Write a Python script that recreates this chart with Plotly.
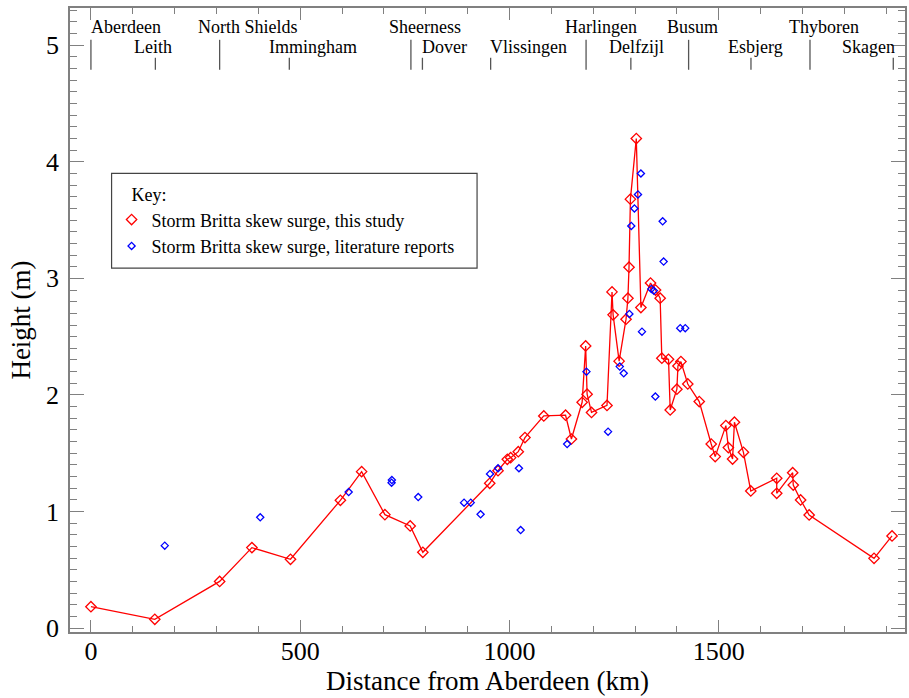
import plotly.graph_objects as go

# ---- data ----
study_km = [0, 152.6, 307.5, 384.6, 476.8, 596, 646.8, 702.4, 762.8, 793,
            952.8, 972.6, 994.8, 1002.8, 1021, 1037, 1082, 1134, 1148, 1173.6,
            1182, 1185.5, 1196, 1233, 1245, 1247.6, 1262, 1278.5, 1283, 1285.6,
            1289, 1303, 1314, 1337, 1349, 1360, 1364, 1380, 1384, 1400,
            1402.5, 1409.6, 1426, 1453.4, 1482, 1491.5, 1517, 1523, 1533, 1537.5,
            1559, 1576.5, 1638.5, 1638.5, 1676.6, 1678, 1695.6, 1716, 1871, 1914]
study_h = [0.183, 0.075, 0.40, 0.69, 0.59, 1.096, 1.342, 0.973, 0.876, 0.65,
           1.242, 1.35, 1.448, 1.462, 1.513, 1.634, 1.82, 1.826, 1.622, 1.937,
           2.42, 2.006, 1.85, 1.91, 2.884, 2.687, 2.29, 2.65, 2.83, 3.096,
           3.68, 4.20, 2.75, 2.96, 2.90, 2.83, 2.315, 2.306, 1.871, 2.049,
           2.249, 2.286, 2.094, 1.943, 1.579, 1.471, 1.737, 1.548, 1.45, 1.766,
           1.508, 1.176, 1.285, 1.156, 1.333, 1.227, 1.099, 0.97, 0.598, 0.79]

lit_km = [176.4, 404.5, 615.8, 718.3, 719, 782, 891.5, 907.5, 931, 953.5,
          972.6, 1022.6, 1026.7, 1137.8, 1184, 1235.6, 1263.5, 1273, 1286.5, 1291,
          1298.5, 1307, 1314, 1316.6, 1339, 1345, 1348.5, 1366, 1368.3, 1408, 1420]
lit_h = [0.707, 0.95, 1.167, 1.247, 1.27, 1.124, 1.076, 1.076, 0.976, 1.322,
         1.371, 1.371, 0.841, 1.579, 2.20, 1.685, 2.243, 2.186, 2.695, 3.45,
         3.60, 3.72, 3.90, 2.543, 2.91, 2.895, 1.986, 3.49, 3.144, 2.573, 2.573]

stations = ["Aberdeen", "Leith", "North Shields", "Immingham", "Sheerness", "Dover",
            "Vlissingen", "Harlingen", "Delfzijl", "Busum", "Esbjerg", "Thyboren", "Skagen"]
station_km = [0, 154, 307.5, 474, 764.5, 792, 955, 1183, 1290, 1428, 1577, 1718, 1917]
station_row = [1, 2, 1, 2, 1, 2, 2, 1, 2, 1, 2, 1, 2]

study_name = "Storm Britta skew surge, this study"
lit_name = "Storm Britta skew surge, literature reports"

# ---- layout helpers (pixel offsets of labels from their marker line) ----
label_dx = [35, -2, 28.5, 24, 14, 22, 37.6, 15, 6, 4, 5, 14, -25]
row_text_y = {1: 5.154, 2: 4.985}
row_line_top = {1: 5.047, 2: 4.893}
line_bottom = 4.79

FONT = "Liberation Serif"
AX = "#808080"
RED = "#ff0000"
BLUE = "#0000ff"

red_marker = dict(symbol="diamond-open", size=8, color=RED, line=dict(width=1.3))
blue_marker = dict(symbol="diamond-open", size=5.5, color=BLUE, line=dict(width=1.3))

fig = go.Figure()
fig.add_trace(go.Scatter(
    x=study_km, y=study_h, mode="lines+markers", name=study_name, showlegend=False,
    line=dict(color=RED, width=1.3), marker=red_marker,
))
fig.add_trace(go.Scatter(
    x=lit_km, y=lit_h, mode="markers", name=lit_name, showlegend=False,
    marker=blue_marker,
))
# legend entries (marker only, as in the key of the original)
fig.add_trace(go.Scatter(x=[None], y=[None], mode="markers", name=study_name, marker=red_marker))
fig.add_trace(go.Scatter(x=[None], y=[None], mode="markers", name=lit_name, marker=blue_marker))

shapes = []
annotations = []
for name, km, row, dx in zip(stations, station_km, station_row, label_dx):
    shapes.append(dict(type="line", xref="x", yref="y", x0=km, x1=km,
                       y0=line_bottom, y1=row_line_top[row],
                       line=dict(color="#555555", width=1.3)))
    annotations.append(dict(x=km, y=row_text_y[row], xref="x", yref="y", text=name,
                            showarrow=False, xshift=dx, xanchor="center", yanchor="middle",
                            font=dict(family=FONT, size=18, color="black")))

# legend box
shapes.append(dict(type="rect", xref="paper", yref="paper",
                   x0=0.0498, x1=0.4875, y0=0.583, y1=0.735,
                   line=dict(color="#444444", width=1.2), fillcolor="rgba(0,0,0,0)"))

fig.update_layout(
    width=909, height=698,
    margin=dict(l=70, r=2, t=8, b=66),
    paper_bgcolor="white", plot_bgcolor="white",
    font=dict(family=FONT, color="black"),
    showlegend=True,
    legend=dict(x=0.0498, y=0.7276, xanchor="left", yanchor="top",
                bgcolor="rgba(0,0,0,0)", borderwidth=0,
                font=dict(family=FONT, size=18, color="black"),
                title=dict(text="\u00a0\u00a0\u00a0\u00a0Key:", font=dict(family=FONT, size=18))),
    shapes=shapes,
    annotations=annotations,
)
fig.update_xaxes(
    range=[-50, 1945], tickmode="linear", tick0=0, dtick=500,
    ticks="inside", ticklen=12, tickwidth=1.3, tickcolor=AX,
    minor=dict(dtick=100, tick0=0, ticks="inside", ticklen=6, tickcolor=AX, tickwidth=1.3),
    showline=True, linecolor=AX, linewidth=1.5, mirror="allticks",
    showgrid=False, zeroline=False,
    tickfont=dict(family=FONT, size=26, color="black"),
    ticklabelstandoff=-5,
    title=dict(text="Distance from Aberdeen (km)", font=dict(family=FONT, size=27), standoff=1),
)
fig.update_yaxes(
    range=[-0.034, 5.32], tickmode="linear", tick0=0, dtick=1,
    ticks="inside", ticklen=14, tickwidth=1.3, tickcolor=AX,
    minor=dict(dtick=0.1, tick0=0, ticks="inside", ticklen=7, tickcolor=AX, tickwidth=1.3),
    showline=True, linecolor=AX, linewidth=1.5, mirror="allticks",
    showgrid=False, zeroline=False,
    tickfont=dict(family=FONT, size=26, color="black"),
    ticklabelstandoff=4,
    title=dict(text="Height (m)", font=dict(family=FONT, size=27), standoff=8),
)

fig.write_html("out.html")
